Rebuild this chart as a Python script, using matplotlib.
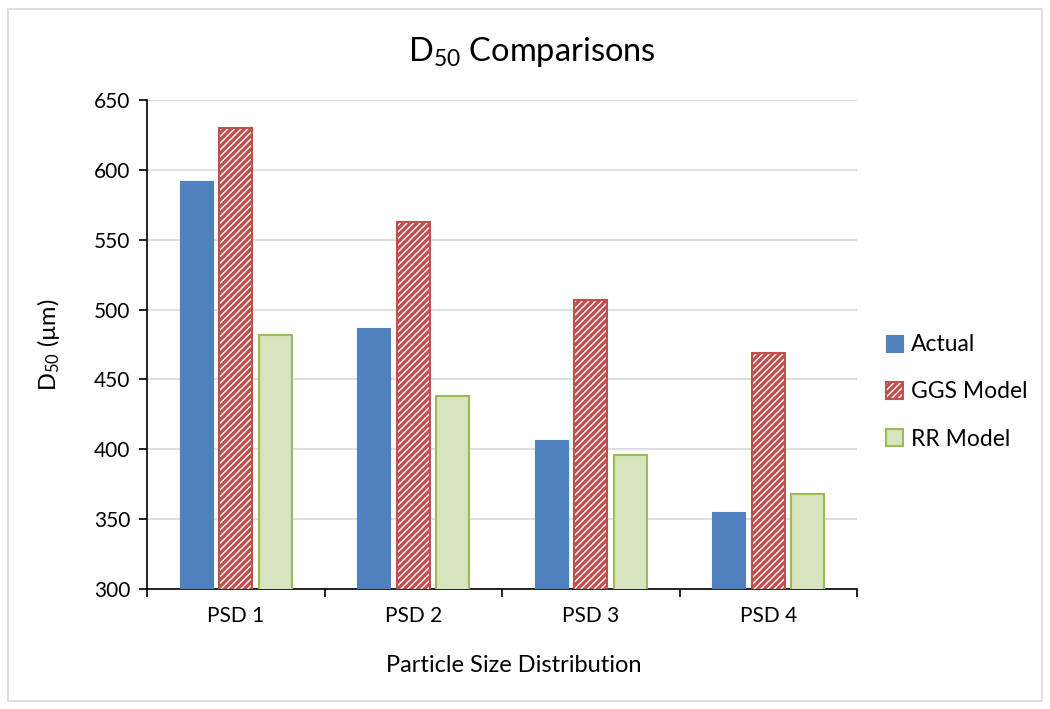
import matplotlib
matplotlib.use("Agg")
import matplotlib.pyplot as plt
import numpy as np
from matplotlib.patches import Rectangle

categories = ["PSD 1", "PSD 2", "PSD 3", "PSD 4"]
actual = [592, 487, 407, 355]
ggs = [630, 563, 507, 469]
rr = [482, 438, 396, 368]
series_names = ["Actual", "GGS Model", "RR Model"]

plt.rcParams['font.family'] = ['Lato', 'DejaVu Sans']
plt.rcParams['hatch.linewidth'] = 2.4
plt.rcParams['mathtext.fontset'] = 'custom'
plt.rcParams['mathtext.rm'] = 'Lato'
plt.rcParams['mathtext.it'] = 'Lato:italic'

fig = plt.figure(figsize=(10.5, 7.09), dpi=100)
ax = fig.add_axes([147/1050, 1-589/709, (857-147)/1050, (589-100)/709])

x = np.arange(len(categories))
w = 0.186
off = 0.2225
ax.bar(x - off, actual, w, color="#4F81BD", edgecolor="#4F81BD", linewidth=0.8, label=series_names[0], zorder=3)
ax.bar(x, ggs, w, color="white", edgecolor="#C0504D", hatch="/////", linewidth=1.5, label=series_names[1], zorder=3)
ax.bar(x + off, rr, w, color="#D7E4BD", edgecolor="#9BBB59", linewidth=1.5, label=series_names[2], zorder=3)

ax.set_xlim(-0.5, 3.5)
ax.set_ylim(300, 650)
ax.set_yticks(np.arange(300, 651, 50))
ax.yaxis.grid(True, color="#D9D9D9", linewidth=1.2, zorder=0)
ax.set_axisbelow(True)
ax.set_xticks(x)
ax.set_xticklabels(categories, fontsize=15)
ax.tick_params(axis='x', length=0, pad=12)
ax.set_xticks(np.arange(-0.5, 4.0, 1.0), minor=True)
ax.tick_params(axis='x', which='minor', length=6, width=1.2, direction='out')
ax.tick_params(axis='y', labelsize=15, length=6, width=1.2, direction='out', pad=6)
for s in ["top", "right"]:
    ax.spines[s].set_visible(False)
ax.spines["left"].set_linewidth(1.2)
ax.spines["bottom"].set_linewidth(1.2)

fig.text(514/1050, 1-665/709, "Particle Size Distribution", fontsize=17, ha="center", va="center")
fig.text(48/1050, 1-345/709, "D$_{50}$ (\u00b5m)", fontsize=17, ha="center", va="center", rotation=90)
fig.text(532/1050, 1-52/709, "D$_{50}$ Comparisons", fontsize=23.5, ha="center", va="center")

leg = ax.legend(loc="center left", frameon=False,
                fontsize=16.5, handlelength=0.75, handleheight=0.75, labelspacing=1.15, handletextpad=0.35,
                borderaxespad=0, borderpad=0)
leg.set_bbox_to_anchor((886/1050, 1-392/709), transform=fig.transFigure)

fig.patches.append(Rectangle((8/1050, 8/709), 1034/1050, 692/709, transform=fig.transFigure,
                             fill=False, edgecolor="#D9D9D9", linewidth=1.2))
fig.savefig("out.png", dpi=100)
